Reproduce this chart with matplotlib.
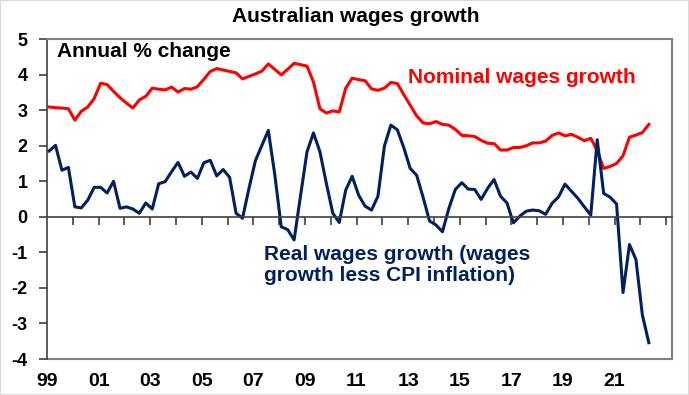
import numpy as np
import matplotlib
matplotlib.use("Agg")
import matplotlib.pyplot as plt

# quarterly, Mar-1999 to Jun-2022, annual % change
nominal = [3.09, 3.07, 3.06, 3.04, 2.72, 2.97, 3.09, 3.33, 3.76, 3.72,
           3.53, 3.35, 3.20, 3.06, 3.29, 3.39, 3.62, 3.59, 3.57, 3.65,
           3.51, 3.61, 3.59, 3.66, 3.87, 4.09, 4.17, 4.13, 4.09, 4.05,
           3.88, 3.95, 4.02, 4.10, 4.30, 4.15, 3.99, 4.15, 4.32, 4.28,
           4.24, 3.79, 3.04, 2.92, 2.98, 2.95, 3.62, 3.90, 3.86, 3.83,
           3.60, 3.56, 3.62, 3.78, 3.75, 3.44, 3.14, 2.84, 2.64, 2.62,
           2.68, 2.60, 2.58, 2.46, 2.29, 2.28, 2.26, 2.15, 2.07, 2.06,
           1.88, 1.88, 1.95, 1.95, 2.00, 2.08, 2.08, 2.13, 2.29, 2.36,
           2.28, 2.32, 2.24, 2.14, 2.21, 1.86, 1.36, 1.42, 1.50, 1.72,
           2.24, 2.30, 2.37, 2.60]

real = [1.85, 2.01, 1.31, 1.39, 0.28, 0.25, 0.47, 0.83, 0.83, 0.67,
        1.00, 0.24, 0.28, 0.22, 0.10, 0.39, 0.22, 0.93, 0.99, 1.27,
        1.53, 1.14, 1.26, 1.08, 1.52, 1.59, 1.15, 1.33, 1.11, 0.10,
        -0.04, 0.80, 1.58, 2.01, 2.43, 1.19, -0.28, -0.36, -0.65, 0.60,
        1.83, 2.36, 1.83, 0.94, 0.10, -0.16, 0.75, 1.14, 0.61, 0.30,
        0.19, 0.58, 1.99, 2.58, 2.45, 1.95, 1.36, 1.17, 0.55, -0.12,
        -0.23, -0.42, 0.24, 0.77, 0.96, 0.78, 0.77, 0.49, 0.80, 1.05,
        0.58, 0.39, -0.17, 0.02, 0.16, 0.19, 0.17, 0.07, 0.38, 0.56,
        0.92, 0.72, 0.52, 0.28, 0.05, 2.17, 0.66, 0.55, 0.36, -2.13,
        -0.78, -1.20, -2.76, -3.54]

start_year = 1999
year_labels = ["99", "01", "03", "05", "07", "09", "11", "13", "15", "17", "19", "21"]
y_ticks = [-4, -3, -2, -1, 0, 1, 2, 3, 4, 5]

red = "#FF0000"
navy = "#002060"
grey = "#808080"

plt.rcParams["font.family"] = ["Liberation Sans", "DejaVu Sans"]
plt.rcParams["font.weight"] = "bold"
plt.rcParams["axes.unicode_minus"] = False

dates = start_year + 0.08 + 0.25 * np.arange(len(nominal))

fig = plt.figure(figsize=(6.89, 3.95), dpi=100)
ax = fig.add_axes([0.0682, 0.0911, 0.9068, 0.81])

ax.plot(dates, nominal, color=red, lw=2.2, solid_joinstyle="round")
ax.plot(dates, real, color=navy, lw=2.2, solid_joinstyle="round")

ax.set_xlim(start_year, start_year + 24.22)
ax.set_ylim(-4, 5)

# zero line carries the yearly tick marks
ax.spines["bottom"].set_position(("data", 0))
ax.spines["bottom"].set_color("#404040")
ax.spines["bottom"].set_linewidth(1.2)
ax.set_xticks(np.arange(start_year + 1, start_year + 25))
ax.tick_params(axis="x", direction="out", length=6, width=1.2,
               color="#404040", labelbottom=False)

for s in ["top", "right"]:
    ax.spines[s].set_color(grey)
    ax.spines[s].set_linewidth(1.5)
ax.spines["left"].set_color("#404040")
ax.spines["left"].set_linewidth(1.2)

ax.set_yticks(y_ticks)
ax.set_yticklabels([str(v) for v in y_ticks])
ax.tick_params(axis="y", direction="out", length=6, width=1.2,
               color="#404040", pad=8, labelsize=13)

# bottom border with the year labels
sec = ax.secondary_xaxis(0.0)
sec.set_xticks(np.arange(start_year, start_year + 24, 2))
sec.set_xticklabels(year_labels)
sec.tick_params(length=0, pad=10, labelsize=14)
sec.spines["bottom"].set_color(grey)
sec.spines["bottom"].set_linewidth(1.5)

fig.text(0.516, 0.957, "Australian wages growth", ha="center", va="center",
         fontsize=15, fontweight="bold")
ax.text(0.016, 0.99, "Annual % change", transform=ax.transAxes,
        ha="left", va="top", fontsize=15, fontweight="bold")
ax.text(2013.0, 3.92, "Nominal wages growth", color=red, ha="left",
        va="center", fontsize=15, fontweight="bold")
ax.text(2007.4, -1.36, "Real wages growth (wages\ngrowth less CPI inflation)",
        color=navy, ha="left", va="center", fontsize=15, fontweight="bold",
        linespacing=1.1)

fig.patches.append(plt.Rectangle((0, 0), 1, 1, transform=fig.transFigure,
                                 fill=False, edgecolor="#D9D9D9", lw=1.5))

fig.savefig("out.png", dpi=100)
